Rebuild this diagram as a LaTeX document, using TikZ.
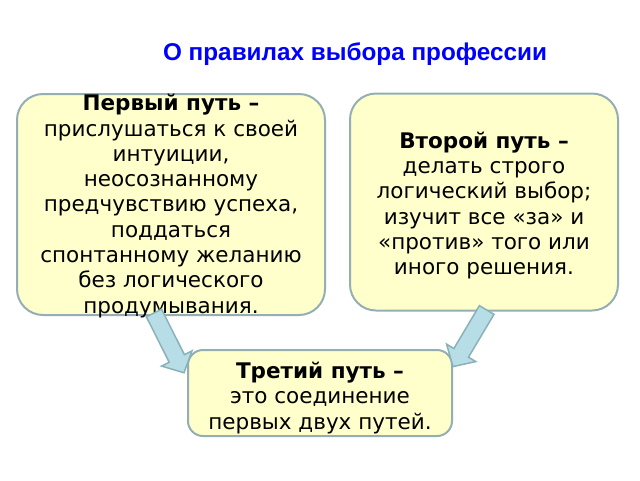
\documentclass[tikz,border=0pt]{standalone}
\usepackage{fontspec}
\setmainfont{DejaVu Sans}
\newfontfamily\titlefont{Liberation Sans}
\usetikzlibrary{calc}
\definecolor{boxfill}{HTML}{FFFFCC}
\definecolor{boxedge}{HTML}{94AEB4}
\definecolor{arrowfill}{HTML}{B7DDE6}
\definecolor{arrowedge}{HTML}{8AB0B8}
\tikzset{
	pathbox/.style={draw=boxedge, fill=boxfill, line width=2pt, rounded corners=26pt},
	pathtext/.style={align=center, font=\fontsize{21.5}{25.3}\selectfont, inner sep=0pt},
	bigarrow/.style={draw=arrowedge, fill=arrowfill, line width=1.5pt, line join=miter}
}
% block arrow from #2 to #3
\def\blockarrow[#1](#2)(#3){%
	\coordinate (ab) at ($(#3)!16pt!(#2)$);
	\draw[#1] ($(#2)!8.5pt!90:(#3)$) -- ($(ab)!8.5pt!-90:(#2)$) -- ($(ab)!17pt!-90:(#2)$) -- (#3) -- ($(ab)!17pt!90:(#2)$) -- ($(ab)!8.5pt!90:(#2)$) -- ($(#2)!8.5pt!-90:(#3)$) -- cycle;}

\begin{document}
\begin{tikzpicture}[x=1pt, y=-1pt]
		%%%%% START %%%%%
		\useasboundingbox[fill=white] (0, 0) rectangle (640, 480);
		
		\node[text=blue, font=\titlefont\bfseries\fontsize{24.3}{28}\selectfont] (title) at (355, 54) {О правилах выбора профессии};
		
		\node[pathbox, minimum width=308, minimum height=221] (first) at (171, 204.5) {};
		\node[pathtext] (firsttext) at (171, 206) {\textbf{Первый путь –}\\прислушаться к своей\\интуиции,\\неосознанному\\предчувствию успеха,\\поддаться\\спонтанному желанию\\без логического\\продумывания.};
		
		\node[pathbox, minimum width=268, minimum height=217] (second) at (484, 202) {};
		\node[pathtext] (secondtext) at (484, 205.5) {\textbf{Второй путь –}\\делать строго\\логический выбор;\\изучит все «за» и\\«против» того или\\иного решения.};
		
		\node[pathbox, rounded corners=15pt, minimum width=264, minimum height=86] (third) at (320, 393) {};
		\node[pathtext] (thirdtext) at (320, 398) {\textbf{Третий путь –}\\это соединение\\первых двух путей.};
		
		\coordinate (lefttail) at ($(first.south west)!0.445!(first.south east) + (0, -3)$);
		\coordinate (lefttip) at ($(third.north west)!0.27!(third.south west) + (-3, 0)$);
		\coordinate (righttail) at ($(second.south west)!0.51!(second.south east) + (0, -1.5)$);
		\coordinate (righttip) at ($(third.north east)!0.2!(third.south east)$);
		
		\blockarrow[bigarrow](lefttail)(lefttip)
		\blockarrow[bigarrow](righttail)(righttip)
		
		%%%%% END %%%%%
	\end{tikzpicture}
\end{document}
